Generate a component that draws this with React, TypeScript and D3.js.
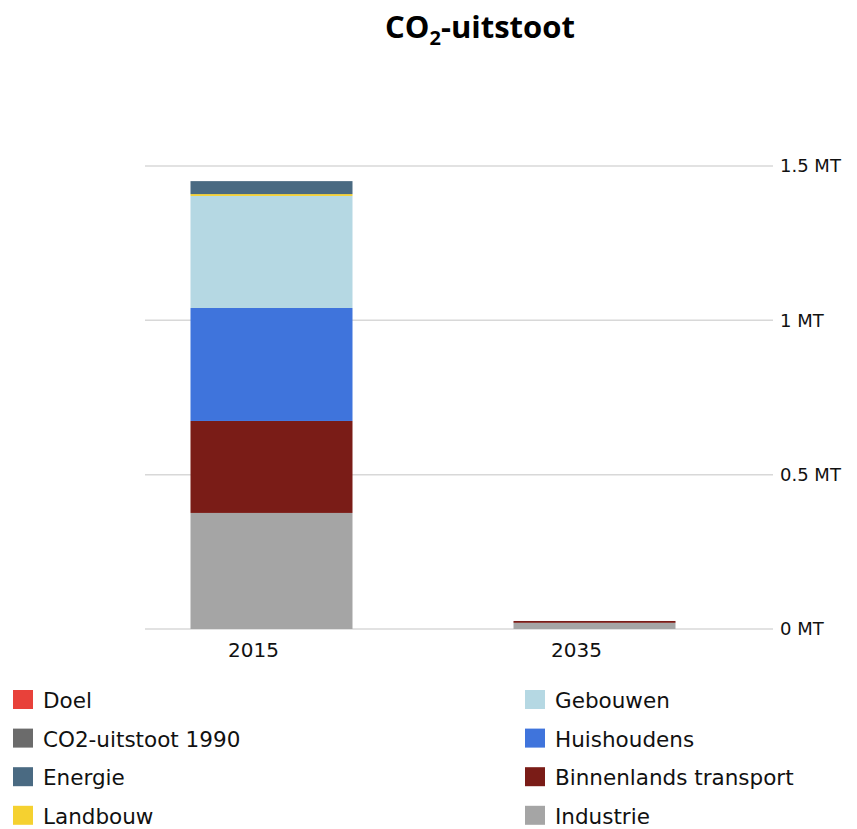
import React from "react";
import * as d3 from "d3";

const categories = ["2015", "2035"];
const seriesNames = ["Industrie", "Binnenlands transport", "Huishoudens", "Gebouwen", "Landbouw", "Energie"];
const industrie = [0.376, 0.020];
const transport = [0.298, 0.006];
const huishoudens = [0.366, 0];
const gebouwen = [0.363, 0];
const landbouw = [0.006, 0];
const energie = [0.042, 0];
const yTicks = [0, 0.5, 1, 1.5];
const tickLabels = ["0 MT", "0.5 MT", "1 MT", "1.5 MT"];
const legendLeft = ["Doel", "CO2-uitstoot 1990", "Energie", "Landbouw"];
const legendRight = ["Gebouwen", "Huishoudens", "Binnenlands transport", "Industrie"];

const colors: Record<string, string> = {
  "Doel": "#e8413a",
  "CO2-uitstoot 1990": "#6b6b6b",
  "Energie": "#4a6a82",
  "Landbouw": "#f5d130",
  "Gebouwen": "#b5d8e3",
  "Huishoudens": "#3f74dc",
  "Binnenlands transport": "#7a1c17",
  "Industrie": "#a5a5a5",
};

export default function App() {
  const W = 857, H = 829;
  const x = d3.scaleBand().domain(categories).range([110, 756]).paddingInner(0).paddingOuter(0);
  const y = d3.scaleLinear().domain([0, 1.5]).range([629, 166]);
  const rows = categories.map((c, i) => ({
    cat: c,
    Industrie: industrie[i],
    "Binnenlands transport": transport[i],
    Huishoudens: huishoudens[i],
    Gebouwen: gebouwen[i],
    Landbouw: landbouw[i],
    Energie: energie[i],
  }));
  const stacked = d3.stack<any>().keys(seriesNames)(rows);
  const bw = 162;
  const font = "'DejaVu Sans', sans-serif";
  return (
    <svg width={W} height={H} style={{ position: "absolute", left: 0, top: 0, background: "#fff" }}>
      <text x={480} y={38} textAnchor="middle" fontFamily="'Open Sans', sans-serif" fontWeight="bold" fontSize={31} fill="#000">
        CO<tspan fontSize={20} dy={7}>2</tspan><tspan dy={-7}>-uitstoot</tspan>
      </text>
      {yTicks.map((t, i) => (
        <g key={t}>
          <line x1={145} x2={773} y1={y(t)} y2={y(t)} stroke="#d8d8d8" strokeWidth={1.5} />
          <text x={780} y={y(t)} dy="0.35em" fontFamily={font} fontSize={18} fill="#111">{tickLabels[i]}</text>
        </g>
      ))}
      {stacked.map((s) => (
        <g key={s.key} fill={colors[s.key]}>
          {s.map((d, j) => {
            const cx = x(categories[j])! + x.bandwidth() / 2;
            const h = y(d[0]) - y(d[1]);
            if (h <= 0) return null;
            return <rect key={j} x={cx - bw / 2} y={y(d[1])} width={bw} height={h} />;
          })}
        </g>
      ))}
      {categories.map((c) => (
        <text key={c} x={x(c)! + x.bandwidth() / 2 - 18} y={657} textAnchor="middle" fontFamily={font} fontSize={20} fill="#111">{c}</text>
      ))}
      {[legendLeft, legendRight].map((col, ci) =>
        col.map((name, ri) => {
          const lx = ci === 0 ? 13 : 525;
          const ly = 700 + ri * 38.6;
          return (
            <g key={name}>
              <rect x={lx} y={ly - 10} width={20} height={19} fill={colors[name]} />
              <text x={lx + 30} y={ly + 8} fontFamily={font} fontSize={21.5} fill="#111">{name}</text>
            </g>
          );
        })
      )}
    </svg>
  );
}
